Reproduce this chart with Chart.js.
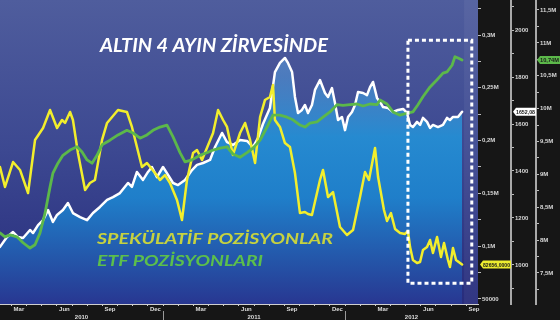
<!DOCTYPE html>
<html>
<head>
<meta charset="utf-8">
<script src="https://cdn.jsdelivr.net/npm/chart.js@4.4.0/dist/chart.umd.min.js"></script>
<style>
    html, body { margin: 0; padding: 0; background: #161616; }
    #chart-wrap { width: 560px; height: 320px; position: relative; }
</style>
</head>
<body>
<div id="chart-wrap"><canvas id="gold-chart"></canvas></div>
<script>
/* Months are counted from 1 Jan 2010 (0 = Jan 2010, 12 = Jan 2011, 24 = Jan 2012) */

// speculative (non-commercial) net positions, contracts
let specMonths = [1.25, 1.58, 2.11, 2.57, 3.10, 3.56, 4.09, 4.55, 5.01, 5.34, 5.54, 5.87, 6.06, 6.39, 6.86,
    7.18, 7.51, 7.98, 8.31, 9.03, 9.62, 9.95, 10.61, 10.94, 11.47, 11.80, 12.13, 12.46, 12.92, 13.25,
    13.58, 13.98, 14.24, 14.57, 15.30, 15.63, 15.96, 16.22, 16.61, 17.08, 17.41, 17.74, 18.07, 18.40, 18.72,
    19.05, 19.25, 19.38, 19.71, 20.04, 20.37, 20.70, 21.03, 21.36, 21.56, 21.82, 22.35, 22.55, 22.88, 23.21,
    23.67, 24.13, 24.53, 24.99, 25.32, 25.58, 25.98, 26.18, 26.57, 26.77, 27.03, 27.30, 27.63, 27.96, 28.15,
    28.29, 28.48, 28.75, 28.95, 29.14, 29.41, 29.61, 29.80, 30.07, 30.33, 30.53, 30.79, 30.92, 31.12, 31.32, 31.72]
let specValues = [175000, 156100, 179700, 172200, 150400, 200600, 211900, 229000, 211900, 219500, 216700, 227100, 219500, 188300, 153200,
    159800, 162700, 200600, 216700, 229000, 227100, 212900, 175000, 178800, 169300, 162700, 167400, 159800, 143800, 124800,
    162700, 188300, 191100, 181600, 207200, 229000, 219500, 212900, 186400, 207200, 216700, 200600, 178800, 222300, 238400,
    241300, 252700, 219500, 212900, 197700, 193900, 169300, 131400, 132400, 130500, 129500, 162700, 172200, 146600, 151300,
    118200, 110600, 115300, 146600, 170300, 162700, 193000, 165500, 134300, 123900, 131400, 116300, 112500, 111600, 114400,
    99200, 86900, 84100, 85000, 96400, 99200, 105900, 93600, 108700, 89800, 103000, 86900, 80300, 98300, 86900, 82656]

// gold spot price, USD/oz
let goldMonths = [1.25, 1.71, 2.11, 2.44, 2.77, 3.23, 3.43, 3.76, 4.09, 4.42, 4.74, 5.01, 5.40, 5.73, 6.06,
    6.53, 6.99, 7.38, 7.84, 8.31, 8.70, 9.16, 9.69, 9.95, 10.28, 10.68, 11.01, 11.27, 11.60, 12.00,
    12.26, 12.66, 12.99, 13.45, 13.91, 14.24, 14.64, 15.10, 15.43, 15.89, 16.22, 16.61, 17.08, 17.54, 17.93,
    18.26, 18.59, 19.05, 19.38, 19.71, 20.04, 20.24, 20.51, 20.70, 20.90, 21.16, 21.36, 21.56, 21.82, 22.02,
    22.35, 22.68, 22.88, 23.14, 23.34, 23.54, 23.80, 24.00, 24.20, 24.46, 24.66, 24.86, 25.19, 25.45, 25.65,
    25.85, 26.11, 26.31, 26.51, 26.84, 27.17, 27.50, 27.83, 28.09, 28.29, 28.48, 28.75, 28.95, 29.14, 29.41,
    29.61, 29.80, 30.13, 30.46, 30.73, 30.92, 31.12, 31.45, 31.72]
let goldValues = [1077, 1119, 1140, 1119, 1115, 1149, 1136, 1170, 1191, 1234, 1183, 1213, 1234, 1264, 1221,
    1204, 1191, 1221, 1247, 1277, 1289, 1306, 1349, 1332, 1396, 1362, 1396, 1417, 1374, 1417,
    1391, 1349, 1340, 1362, 1404, 1426, 1434, 1447, 1502, 1562, 1523, 1511, 1532, 1528, 1502,
    1540, 1600, 1668, 1821, 1860, 1881, 1860, 1821, 1715, 1647, 1660, 1681, 1647, 1681, 1745,
    1787, 1732, 1715, 1753, 1689, 1617, 1630, 1574, 1630, 1651, 1681, 1736, 1732, 1723, 1757,
    1779, 1711, 1694, 1672, 1668, 1651, 1660, 1664, 1647, 1596, 1587, 1609, 1596, 1626, 1609,
    1583, 1596, 1587, 1596, 1626, 1617, 1630, 1630, 1652.08]

// ETF holdings, million oz
let etfMonths = [1.25, 1.58, 1.91, 2.37, 2.77, 3.23, 3.56, 3.89, 4.22, 4.55, 4.74, 5.07, 5.40, 5.87, 6.33,
    6.66, 6.99, 7.32, 7.65, 7.98, 8.50, 9.03, 9.62, 10.02, 10.48, 10.94, 11.34, 11.80, 12.26, 12.66,
    13.12, 13.45, 13.91, 14.44, 14.90, 15.30, 15.76, 16.22, 16.61, 17.08, 17.54, 17.93, 18.40, 18.86, 19.25,
    19.71, 20.18, 20.57, 21.03, 21.36, 21.69, 22.15, 22.55, 23.01, 23.47, 23.87, 24.33, 24.79, 25.19, 25.65,
    26.11, 26.31, 26.77, 27.17, 27.63, 28.09, 28.48, 28.81, 29.14, 29.61, 30.07, 30.46, 30.73, 31.06, 31.25,
    31.45, 31.72]
let etfValues = [8.11, 8.05, 8.08, 8.05, 7.96, 7.88, 7.93, 8.11, 8.41, 8.81, 9.02, 9.17, 9.29, 9.37, 9.42,
    9.34, 9.22, 9.17, 9.29, 9.45, 9.52, 9.60, 9.67, 9.63, 9.55, 9.60, 9.67, 9.72, 9.75, 9.57,
    9.33, 9.19, 9.22, 9.29, 9.33, 9.37, 9.40, 9.42, 9.31, 9.26, 9.33, 9.40, 9.52, 9.72, 9.90,
    9.90, 9.87, 9.83, 9.75, 9.72, 9.78, 9.80, 9.87, 9.95, 10.06, 10.05, 10.06, 10.07, 10.04, 10.07,
    10.06, 10.13, 10.07, 9.95, 9.90, 9.93, 9.95, 10.06, 10.18, 10.33, 10.44, 10.54, 10.56, 10.66, 10.79,
    10.77, 10.74]

/* Axis ticks and labels */
let monthLabelPos = [2.5, 5.5, 8.5, 11.5, 14.5, 17.5, 20.5, 23.5, 26.5, 29.5, 32.5]
let monthLabels = ['Mar', 'Jun', 'Sep', 'Dec', 'Mar', 'Jun', 'Sep', 'Dec', 'Mar', 'Jun', 'Sep']
let yearStarts = [0, 12, 24]
let yearLabels = ['2010', '2011', '2012']

let specTicks = [50000, 100000, 150000, 200000, 250000, 300000]
let specTickLabels = ['50000', '0,1M', '0,15M', '0,2M', '0,25M', '0,3M']
let goldTicks = [1000, 1200, 1400, 1600, 1800, 2000]
let goldTickLabels = ['1000', '1200', '1400', '1600', '1800', '2000']
let etfTicks = [7.5, 8, 8.5, 9, 9.5, 10, 10.5, 11, 11.5]
let etfTickLabels = ['7,5M', '8M', '8,5M', '9M', '9,5M', '10M', '10,5M', '11M', '11,5M']

// the dashed box marking the last months (x in months, y on the speculative axis)
let highlightBox = { from: 28.15, to: 32.36, top: 295000, bottom: 65000 }

let titleText = 'ALTIN 4 AYIN ZİRVESİNDE'
let specText = 'SPEKÜLATİF POZİSYONLAR'
let etfText = 'ETF POZİSYONLARI'


Chart.defaults.font.family = 'Liberation Sans'

let axisFont = { family: 'Liberation Sans', size: 6, weight: 'bold' }

function toPoints(xs, ys) {
    return xs.map((x, i) => ({ x: x, y: ys[i] }))
}

// majors plus one minor tick halfway between them
function withMinorTicks(majors, min, max) {
    let step = majors[1] - majors[0]
    let list = []
    for (let v = majors[0] - step / 2; v <= max; v += step / 2) {
        if (v >= min) list.push(Math.round(v * 1000) / 1000)
    }
    return list.map(v => ({ value: v }))
}

function tickLabeller(majors, labels) {
    return function(value) {
        let i = majors.indexOf(value)
        return i >= 0 ? labels[i] : ''
    }
}

// no extra room for labels sticking out at the ends of an axis
function noEndPadding(scale) {
    scale.paddingTop = 0
    scale.paddingBottom = 0
    scale.paddingLeft = 0
    scale.paddingRight = 0
}

// text squeezed/stretched to a given width
function fitText(ctx, text, x, y, width, font, color) {
    ctx.save()
    ctx.font = font
    let w = ctx.measureText(text).width
    ctx.translate(x, y)
    ctx.scale(width / w, 1)
    ctx.fillStyle = color
    ctx.fillText(text, 0, 0)
    ctx.restore()
}

// value tag with a pointed left end, as on the right axes
function drawTag(ctx, x, y, w, text, bg) {
    ctx.save()
    ctx.beginPath()
    ctx.moveTo(x, y)
    ctx.lineTo(x + 3, y - 4)
    ctx.lineTo(x + w, y - 4)
    ctx.lineTo(x + w, y + 4)
    ctx.lineTo(x + 3, y + 4)
    ctx.closePath()
    ctx.fillStyle = bg
    ctx.fill()
    ctx.textBaseline = 'middle'
    fitText(ctx, text, x + 3, y + 0.5, Math.min(w - 4, 40), 'bold 6px Liberation Sans', '#1a1a1a')
    ctx.restore()
}

let backgroundPlugin = {
    id: 'background',
    beforeDraw(chart) {
        let { ctx, chartArea: a, width, height } = chart
        ctx.save()
        ctx.fillStyle = '#161616'
        ctx.fillRect(0, 0, width, height)
        let g = ctx.createLinearGradient(0, a.top, 0, a.bottom)
        g.addColorStop(0, '#4f5d9d')
        g.addColorStop(0.5, '#3c4891')
        g.addColorStop(1, '#272c7c')
        ctx.fillStyle = g
        ctx.fillRect(a.left, a.top, a.right - a.left, a.bottom - a.top)
        // slightly lighter strip after the last data point
        let xEnd = chart.scales.x.getPixelForValue(goldMonths[goldMonths.length - 1])
        ctx.fillStyle = 'rgba(255,255,255,0.05)'
        ctx.fillRect(xEnd + 2, a.top, a.right - xEnd - 2, a.bottom - a.top)
        ctx.restore()
    }
}

let overlayPlugin = {
    id: 'overlay',
    afterDatasetsDraw(chart) {
        let { ctx, scales } = chart
        let x1 = scales.x.getPixelForValue(highlightBox.from)
        let x2 = scales.x.getPixelForValue(highlightBox.to)
        let y1 = scales.ySpec.getPixelForValue(highlightBox.top)
        let y2 = scales.ySpec.getPixelForValue(highlightBox.bottom)
        ctx.save()
        ctx.strokeStyle = '#ffffff'
        ctx.lineWidth = 3
        ctx.setLineDash([4, 3])
        ctx.strokeRect(x1, y1, x2 - x1, y2 - y1)
        ctx.restore()
    },
    afterDraw(chart) {
        let { ctx, scales, chartArea: a } = chart

        // texts on the plot
        ctx.save()
        ctx.textBaseline = 'alphabetic'
        fitText(ctx, titleText, 100, 52, 228, 'italic bold 19px Lato', '#ffffff')
        fitText(ctx, specText, 97, 244, 236, 'italic bold 16px Lato', '#c6d240')
        fitText(ctx, etfText, 97, 265.5, 166, 'italic bold 16px Lato', '#5cbf4c')
        ctx.restore()

        // year labels under the month labels, with dividers at new year
        ctx.save()
        ctx.font = 'bold 6px Liberation Sans'
        ctx.fillStyle = '#dcdcdc'
        ctx.textAlign = 'center'
        ctx.textBaseline = 'alphabetic'
        ctx.strokeStyle = '#9a9a9a'
        ctx.lineWidth = 1
        yearStarts.forEach((start, i) => {
            let left = Math.max(a.left, scales.x.getPixelForValue(start))
            let right = Math.min(a.right, scales.x.getPixelForValue(start + 12))
            ctx.fillText(yearLabels[i], (left + right) / 2, 318.5)
            let xs = scales.x.getPixelForValue(start)
            if (xs > a.left && xs < a.right) {
                ctx.beginPath()
                ctx.moveTo(Math.round(xs) + 0.5, 311)
                ctx.lineTo(Math.round(xs) + 0.5, 320)
                ctx.stroke()
            }
        })
        ctx.restore()

        // last value tags on the right axes
        let lastSpec = specValues[specValues.length - 1]
        let lastGold = goldValues[goldValues.length - 1]
        let lastEtf = etfValues[etfValues.length - 1]
        drawTag(ctx, scales.ySpec.left + 2, scales.ySpec.getPixelForValue(lastSpec), scales.ySpec.width - 2,
            lastSpec.toFixed(4).replace('.', ','), '#eeee30')
        drawTag(ctx, scales.yGold.left + 2, scales.yGold.getPixelForValue(lastGold), scales.yGold.width - 2,
            lastGold.toFixed(2).replace('.', ','), '#ffffff')
        drawTag(ctx, scales.yEtf.left + 1, scales.yEtf.getPixelForValue(lastEtf), scales.yEtf.width - 1,
            lastEtf.toFixed(2).replace('.', ',') + 'M', '#5cb84a')
    }
}

let goldFill = function(context) {
    let { ctx, chartArea } = context.chart
    if (!chartArea) return 'rgba(0,0,0,0)'
    let g = ctx.createLinearGradient(0, chartArea.top, 0, chartArea.bottom)
    g.addColorStop(0, 'rgba(140,180,230,0.45)')
    g.addColorStop(0.25, 'rgba(80,150,215,0.6)')
    g.addColorStop(0.45, 'rgba(35,145,215,0.9)')
    g.addColorStop(0.65, 'rgba(30,130,205,0.95)')
    g.addColorStop(1, 'rgba(40,55,145,1)')
    return g
}

let rightAxis = function(weight, width, majors, labels, showBorder) {
    return {
        type: 'linear',
        position: 'right',
        weight: weight,
        afterFit: scale => { scale.width = width; noEndPadding(scale) },
        afterBuildTicks: scale => { scale.ticks = withMinorTicks(majors, scale.min, scale.max) },
        border: { display: showBorder, color: '#a9a9a9', width: 2 },
        grid: { drawOnChartArea: false, drawTicks: true, tickLength: 3, tickColor: '#bdbdbd' },
        ticks: {
            autoSkip: false,
            padding: 1,
            color: '#d8d8d8',
            font: axisFont,
            callback: tickLabeller(majors, labels)
        }
    }
}

let chartCanvas = document.querySelector('#gold-chart')
let ctx = chartCanvas.getContext('2d')

let goldChart = new Chart(ctx, {
    type: 'line',
    data: {
        datasets: [
            {
                label: 'Altın',
                data: toPoints(goldMonths, goldValues),
                yAxisID: 'yGold',
                borderColor: '#ffffff',
                borderWidth: 2.5,
                fill: 'start',
                backgroundColor: goldFill,
                order: 3
            },
            {
                label: 'Spekülatif pozisyonlar',
                data: toPoints(specMonths, specValues),
                yAxisID: 'ySpec',
                borderColor: '#f2ee2c',
                borderWidth: 2.5,
                fill: false,
                order: 2
            },
            {
                label: 'ETF pozisyonları',
                data: toPoints(etfMonths, etfValues),
                yAxisID: 'yEtf',
                borderColor: '#5cb84a',
                borderWidth: 2.8,
                fill: false,
                order: 1
            }
        ]
    },
    options: {
        responsive: true,
        maintainAspectRatio: false,
        animation: false,
        devicePixelRatio: 1,
        layout: { padding: 0 },
        elements: {
            point: { radius: 0 },
            line: { tension: 0, borderJoinStyle: 'round', borderCapStyle: 'round' }
        },
        plugins: {
            legend: { display: false },
            tooltip: { enabled: false }
        },
        scales: {
            x: {
                type: 'linear',
                position: 'bottom',
                min: 1.25,
                max: 32.77,
                afterFit: scale => { scale.height = 16; noEndPadding(scale) },
                afterBuildTicks: scale => {
                    let list = []
                    for (let m = Math.ceil(scale.min); m <= scale.max; m++) list.push(m)
                    list = list.concat(monthLabelPos).sort((p, q) => p - q)
                    scale.ticks = list.map(v => ({ value: v }))
                },
                border: { display: true, color: '#cfcfcf', width: 1 },
                grid: {
                    drawOnChartArea: false,
                    drawTicks: true,
                    tickLength: 2,
                    tickColor: c => (c.tick && Number.isInteger(c.tick.value)) ? '#cfcfcf' : 'rgba(0,0,0,0)'
                },
                ticks: {
                    autoSkip: false,
                    maxRotation: 0,
                    padding: 0,
                    color: '#dcdcdc',
                    font: axisFont,
                    callback: tickLabeller(monthLabelPos, monthLabels)
                }
            },
            ySpec: Object.assign(rightAxis(0, 33, specTicks, specTickLabels, false), { min: 45265, max: 333144 }),
            yGold: Object.assign(rightAxis(1, 25, goldTicks, goldTickLabels, true), { min: 834, max: 2127.7 }),
            yEtf: Object.assign(rightAxis(2, 24, etfTicks, etfTickLabels, true), { min: 7.0285, max: 11.652 })
        }
    },
    plugins: [backgroundPlugin, overlayPlugin]
})
</script>
</body>
</html>
